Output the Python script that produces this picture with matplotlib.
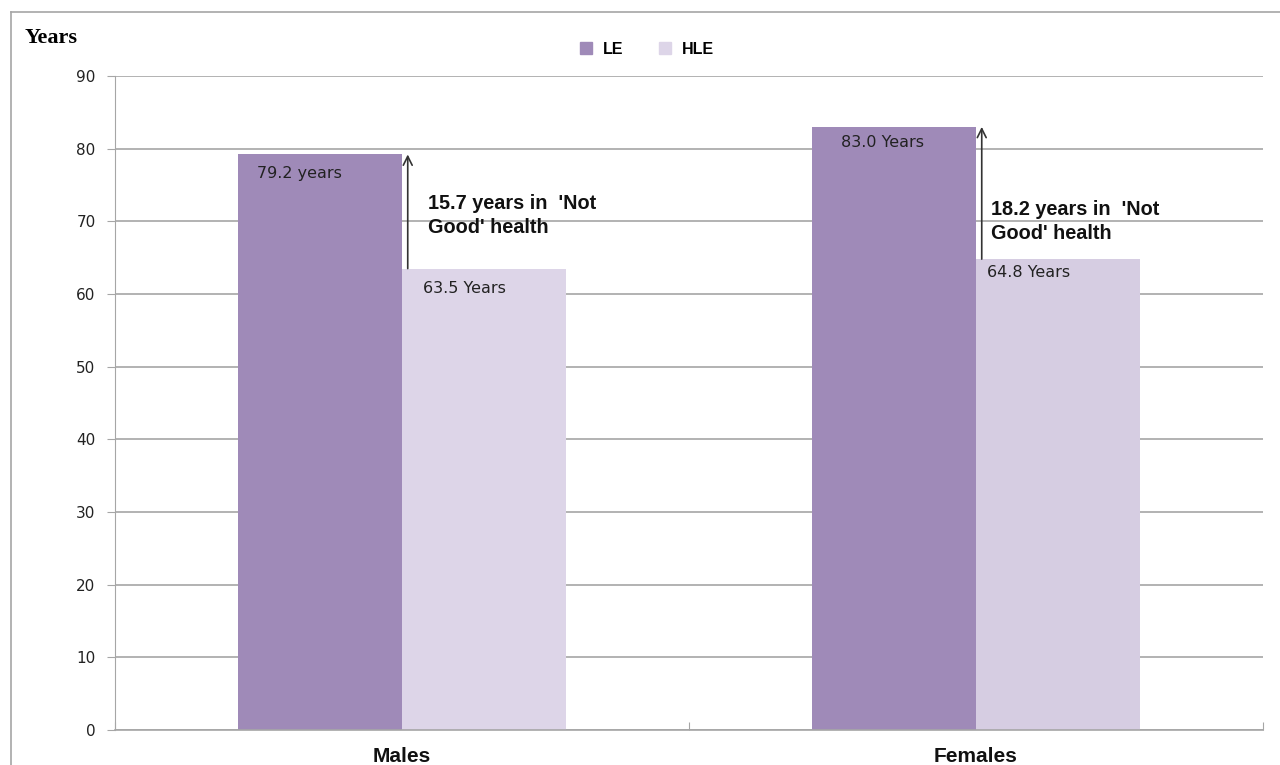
import matplotlib
matplotlib.use("Agg")
import matplotlib.pyplot as plt
from matplotlib.lines import Line2D
import numpy as np

# data
categories = ["Males", "Females"]
le = [79.2, 83.0]
hle = [63.5, 64.8]
le_labels = ["79.2 years", "83.0 Years"]
hle_labels = ["63.5 Years", "64.8 Years"]
gap_labels = ["15.7 years in  'Not\nGood' health", "18.2 years in  'Not\nGood' health"]

le_color = "#9f8ab8"
hle_colors = ["#ddd5e8", "#d6cde2"]

plt.rcParams['font.family'] = ['Liberation Sans', 'DejaVu Sans']

fig = plt.figure(figsize=(12.8, 7.65), dpi=100)
ax = fig.add_axes([115/1280, 35/765, (1263-115)/1280, (730-76)/765])

x = np.arange(len(categories))
w = 0.286
ax.bar(x - w/2, le, w, color=le_color, zorder=2, label="LE")
ax.bar(x + w/2, hle, w, color=hle_colors, zorder=2, label="HLE")

ax.set_xlim(-0.5, 1.5)
ax.set_ylim(0, 90)
ax.set_yticks(range(0, 91, 10))
ax.grid(axis='y', color='#a6a6a6', lw=1.2, zorder=0)
ax.set_axisbelow(True)

for s in ['top', 'right']:
    ax.spines[s].set_visible(False)
ax.spines['left'].set_color('#a6a6a6')
ax.spines['bottom'].set_color('#a6a6a6')
ax.spines['bottom'].set_linewidth(1.2)
ax.tick_params(axis='y', colors='#a6a6a6', labelcolor='#222222', labelsize=11, length=6, pad=8)
for t in ax.get_yticklabels():
    t.set_fontfamily('DejaVu Sans')

ax.set_xticks([-0.5, 0.5, 1.5])
ax.set_xticklabels([])
ax.tick_params(axis='x', colors='#a6a6a6', length=6, direction='in')
for xi, c in zip(x, categories):
    ax.text(xi, -3.6, c, ha='center', va='center', fontsize=15, fontweight='bold',
            color='#111111', clip_on=False)

# bar labels (offsets in axis units)
le_dx = [0.033, 0.050]
le_dy = [2.6, 2.2]
hle_dx = [0.036, 0.020]
hle_dy = [2.8, 1.9]
gap_dx = [0.045, 0.026]
gap_top = [73.7, 72.9]
for i in range(len(categories)):
    ax.text(x[i] - w + le_dx[i], le[i] - le_dy[i], le_labels[i], ha='left', va='center',
            fontsize=11.5, color='#222222', fontfamily='DejaVu Sans', zorder=3)
    ax.text(x[i] + hle_dx[i], hle[i] - hle_dy[i], hle_labels[i], ha='left', va='center',
            fontsize=11.5, color='#222222', fontfamily='DejaVu Sans', zorder=3)
    # gap arrow between HLE and LE tops
    ax.annotate("", xy=(x[i] + 0.01, le[i]), xytext=(x[i] + 0.01, hle[i]),
                arrowprops=dict(arrowstyle='->', color='#333333', lw=1.2,
                                shrinkA=0, shrinkB=0, mutation_scale=16), zorder=4)
    ax.text(x[i] + gap_dx[i], gap_top[i], gap_labels[i], ha='left', va='top',
            fontsize=14.3, fontweight='bold', color='#111111', linespacing=1.3, zorder=4)

# legend
handles = [Line2D([], [], marker='s', ls='', markersize=9, color=le_color),
           Line2D([], [], marker='s', ls='', markersize=9, color=hle_colors[0])]
fig.legend(handles, ["LE", "HLE"], loc='center', bbox_to_anchor=(642/1280, 1 - 49/765),
           ncol=2, frameon=False, handletextpad=0.05, columnspacing=1.6,
           prop={'weight': 'bold', 'size': 11.5})

fig.text(25/1280, 1 - 38/765, "Years", fontfamily='Liberation Serif', fontweight='bold',
         fontsize=16, va='center', ha='left')

# outer border (top and left)
fig.add_artist(Line2D([11/1280, 1], [1 - 12/765, 1 - 12/765], color='#a6a6a6', lw=1.2))
fig.add_artist(Line2D([11/1280, 11/1280], [0, 1 - 12/765], color='#a6a6a6', lw=1.2))

fig.savefig("out.png", dpi=100)
